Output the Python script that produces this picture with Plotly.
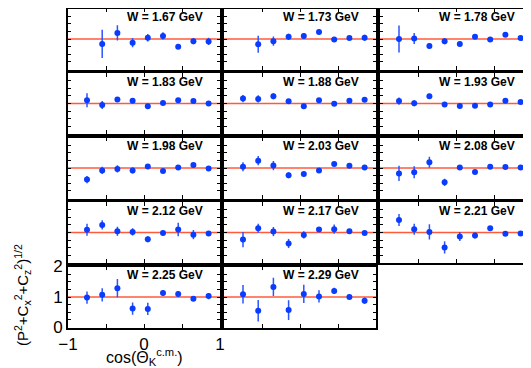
import plotly.graph_objects as go

W_LABELS = ["1.67", "1.73", "1.78", "1.83", "1.88", "1.93", "1.98", "2.03", "2.08",
            "2.12", "2.17", "2.21", "2.25", "2.29"]
COS_K = [-0.75, -0.55, -0.35, -0.15, 0.05, 0.25, 0.45, 0.65, 0.85]

w167 = [None, 0.84, 1.20, 0.88, 1.04, 1.10, 0.75, 0.93, 0.92]
e167 = [None, 0.46, 0.25, 0.15, 0.12, 0.12, 0.08, 0.10, 0.12]
w173 = [None, 0.83, 0.93, 1.07, 1.10, 1.23, 0.98, 1.03, 1.04]
e173 = [None, 0.28, 0.15, 0.10, 0.10, 0.08, 0.05, 0.05, 0.10]
w178 = [1.00, 1.02, 0.77, 0.93, 0.84, 1.07, 0.98, 1.14, 1.03]
e178 = [0.44, 0.18, 0.10, 0.10, 0.08, 0.05, 0.06, 0.06, 0.08]
w183 = [1.11, 0.95, 1.13, 1.09, 0.91, 1.02, 1.11, 1.08, 1.00]
e183 = [0.23, 0.13, 0.08, 0.06, 0.06, 0.06, 0.05, 0.05, 0.05]
w188 = [1.16, 1.15, 1.24, 1.07, 0.91, 1.11, 0.99, 1.09, 1.12]
e188 = [0.12, 0.12, 0.10, 0.06, 0.05, 0.05, 0.05, 0.05, 0.05]
w193 = [1.08, 1.01, 1.24, 0.97, 0.92, 0.93, 0.97, 1.09, 1.05]
e193 = [0.12, 0.10, 0.08, 0.06, 0.05, 0.05, 0.05, 0.06, 0.05]
w198 = [0.62, 0.92, 0.97, 0.92, 1.05, 0.90, 1.02, 1.10, 0.98]
e198 = [0.12, 0.12, 0.12, 0.10, 0.06, 0.06, 0.06, 0.06, 0.08]
w203 = [1.04, 1.24, 1.08, 0.76, 0.80, 0.92, 1.13, 1.07, 1.02]
e203 = [0.15, 0.15, 0.15, 0.10, 0.08, 0.06, 0.06, 0.06, 0.06]
w208 = [0.82, 0.86, 1.19, 0.53, 1.02, 0.87, 1.04, 1.03, 1.02]
e208 = [0.25, 0.20, 0.18, 0.12, 0.08, 0.06, 0.06, 0.06, 0.06]
w212 = [1.09, 1.25, 1.04, 1.02, 0.78, 0.98, 1.10, 0.93, 0.97]
e212 = [0.20, 0.15, 0.15, 0.12, 0.10, 0.06, 0.22, 0.15, 0.06]
w217 = [0.77, 1.14, 1.03, 0.64, 0.92, 1.10, 1.11, 1.04, 0.98]
e217 = [0.25, 0.15, 0.15, 0.15, 0.12, 0.08, 0.15, 0.06, 0.06]
w221 = [1.41, 1.11, 1.02, 0.51, 0.87, 0.90, 1.14, 0.96, 0.97]
e221 = [0.20, 0.18, 0.25, 0.20, 0.15, 0.10, 0.06, 0.06, 0.06]
w225 = [0.98, 1.07, 1.29, 0.62, 0.61, 1.13, 1.10, 0.94, 1.03]
e225 = [0.20, 0.22, 0.30, 0.20, 0.20, 0.10, 0.10, 0.06, 0.10]
w229 = [1.09, 0.55, 1.33, 0.57, 1.10, 1.02, 1.20, 1.00, 0.88]
e229 = [0.30, 0.35, 0.30, 0.32, 0.30, 0.20, 0.10, 0.08, 0.10]

VALUES = [w167, w173, w178, w183, w188, w193, w198, w203, w208, w212, w217, w221, w225, w229]
ERRORS = [e167, e173, e178, e183, e188, e193, e198, e203, e208, e212, e217, e221, e225, e229]

Y_TICKS = [0, 0.25, 0.5, 0.75, 1, 1.25, 1.5, 1.75, 2]
Y_TICKTEXT = ["0", "", "", "", "1", "", "", "", "2"]
X_TICKS = [-1, -0.5, 0, 0.5, 1]
X_TICKTEXT = ["\u22121", "", "0", "", "1"]

FW, FH = 531, 368
COL_L = [60, 216, 372]
COL_W = 152
ROW_T = [0.5, 65, 129.5, 194, 258.5]
ROW_H = 61

fig = go.Figure()
layout = dict(width=FW, height=FH, margin=dict(l=0, r=0, t=0, b=0), template="none",
              paper_bgcolor="white", plot_bgcolor="white", showlegend=False,
              font=dict(family="Liberation Sans, Arial, sans-serif", color="black"))
annotations = []
shapes = []

for i, (lab, vals, errs) in enumerate(zip(W_LABELS, VALUES, ERRORS)):
    r, c = divmod(i, 3)
    n = i + 1
    xa = "x" if n == 1 else f"x{n}"
    ya = "y" if n == 1 else f"y{n}"
    xk = "xaxis" if n == 1 else f"xaxis{n}"
    yk = "yaxis" if n == 1 else f"yaxis{n}"
    x0 = COL_L[c] / FW
    x1 = (COL_L[c] + COL_W) / FW
    y1 = 1 - ROW_T[r] / FH
    y0 = 1 - (ROW_T[r] + ROW_H) / FH
    labeled = (i == 12)
    layout[xk] = dict(domain=[x0, x1], range=[-1, 1], anchor=ya, automargin=False,
                      showgrid=False, zeroline=False, showline=True, mirror="ticks",
                      linecolor="black", linewidth=1.6, ticks="inside", ticklen=4,
                      tickwidth=1, tickcolor="black",
                      tickvals=X_TICKS, ticktext=X_TICKTEXT, showticklabels=labeled,
                      tickfont=dict(size=17))
    layout[yk] = dict(domain=[y0, y1], range=[0, 2], anchor=xa, automargin=False,
                      showgrid=False, zeroline=False, showline=True, mirror="ticks",
                      linecolor="black", linewidth=1.6, ticks="inside", ticklen=3,
                      tickwidth=1, tickcolor="black",
                      tickvals=Y_TICKS, ticktext=Y_TICKTEXT, showticklabels=labeled,
                      tickfont=dict(size=17))
    shapes.append(dict(type="line", xref=f"{xa} domain", yref=ya, x0=0, x1=1, y0=1, y1=1,
                       line=dict(color="#ff5a3c", width=1.5), layer="below"))
    fig.add_trace(go.Scatter(x=COS_K, y=vals, mode="markers", xaxis=xa, yaxis=ya,
                             marker=dict(color="#0a3cff", size=6),
                             error_y=dict(type="data", array=errs, color="#2a55ff",
                                          thickness=1.5, width=0)))
    annotations.append(dict(text=f"<b>W = {lab} GeV</b>", xref=f"{xa} domain", yref=f"{ya} domain",
                            x=0.9, y=0.86, xanchor="right", yanchor="middle",
                            showarrow=False, font=dict(size=12, color="black",
                                                       family="Liberation Sans, Arial, sans-serif"),
                            ))

annotations.append(dict(text="(P<sup>2</sup>+C<sub>x</sub><sup>2</sup>+C<sub>z</sub><sup>2</sup>)<sup>1/2</sup>",
                        xref="paper", yref="paper", x=14 / FW, y=1 - 287 / FH,
                        xanchor="center", yanchor="middle", textangle=-90, showarrow=False,
                        font=dict(size=15)))
annotations.append(dict(text="cos(\u0398<sub>K</sub><sup>c.m.</sup>)",
                        xref="paper", yref="paper", x=136 / FW, y=1 - 348.5 / FH,
                        xanchor="center", yanchor="middle", showarrow=False,
                        font=dict(size=16)))

layout["annotations"] = annotations
layout["shapes"] = shapes
fig.update_layout(**layout)
fig.write_html("out.html")
